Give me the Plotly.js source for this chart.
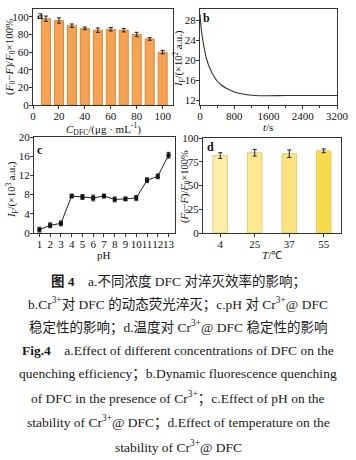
<!DOCTYPE html>
<html>
<head>
<meta charset="utf-8">
<script src="https://cdn.plot.ly/plotly-3.0.1.min.js"></script>
<style>html,body{margin:0;padding:0;background:#fff;}#chart{width:356px;height:460px;}</style>
</head>
<body>
<div id="chart"></div>
<script>
// ---- data ----
const concentrations = [10, 20, 30, 40, 50, 60, 70, 80, 90, 100];
const quenchEff = [98, 96, 90, 87, 85, 86, 85, 80, 75, 60];
const quenchErr = [3, 3, 2, 1.5, 2.5, 2, 2, 2.5, 1.5, 2];

const timeS = [0, 20, 40, 60, 80, 100, 150, 200, 250, 300, 400, 500, 600, 700, 800, 1000, 1200, 1400, 1600, 2000, 2400, 2800, 3200];
const intensityB = [29.2, 27.0, 25.5, 24.3, 23.2, 22.3, 20.3, 19.0, 18.0, 17.1, 15.8, 15.0, 14.4, 14.0, 13.6, 13.2, 12.95, 12.85, 12.85, 12.9, 12.9, 12.9, 12.9];

const pHValues = [1, 2, 3, 4, 5, 6, 7, 8, 9, 10, 11, 12, 13];
const pHIntensity = [0.7, 1.6, 2.0, 7.7, 7.5, 7.3, 7.7, 7.0, 7.1, 7.3, 11.0, 11.8, 16.2];
const pHErr = [0.5, 0.5, 0.5, 0.4, 0.5, 0.6, 0.4, 0.5, 0.4, 0.5, 0.5, 0.5, 0.6];

const temps = ['4', '25', '37', '55'];
const tempEff = [81.5, 84.5, 83.5, 86.5];
const tempErr = [3, 3.5, 4, 2];

const tickA = [0, 20, 40, 60, 80, 100];
const tickB_x = [0, 800, 1600, 2400, 3200];
const tickB_y = [12, 16, 20, 24, 28];
const tickC_y = [0, 4, 8, 12, 16, 20];
const tickD_y = [0, 25, 50, 75, 100];

// ---- helpers ----
const W = 356, H = 460;
const px = v => v / W;
const py = v => 1 - v / H;
const SERIF = 'Liberation Serif, Times New Roman, serif';
const CAP = 'Liberation Serif, Noto Sans CJK SC, serif';

function axisBase(extra) {
  return Object.assign({
    showline: true, mirror: true, linecolor: '#333', linewidth: 1,
    ticks: 'outside', ticklen: 3, tickwidth: 1, tickcolor: '#333',
    showgrid: false, zeroline: false, tickangle: 0,
    ticklabelstandoff: -2,
    tickfont: {family: SERIF, size: 11, color: '#111'},
    fixedrange: true
  }, extra);
}

const traces = [
  {
    type: 'bar', x: concentrations, y: quenchEff, width: 7,
    marker: {color: '#F5A352', line: {color: '#DA8A3C', width: 1}},
    error_y: {type: 'data', array: quenchErr, color: '#222', thickness: 1, width: 2},
    xaxis: 'x', yaxis: 'y', showlegend: false
  },
  {
    type: 'scatter', mode: 'lines', x: timeS, y: intensityB,
    line: {color: '#333', width: 1.1, shape: 'spline', smoothing: 0.6},
    xaxis: 'x2', yaxis: 'y2', showlegend: false
  },
  {
    type: 'scatter', mode: 'lines+markers', x: pHValues, y: pHIntensity,
    line: {color: '#222', width: 1},
    marker: {symbol: 'square', size: 4, color: '#111'},
    error_y: {type: 'data', array: pHErr, color: '#222', thickness: 1, width: 2},
    xaxis: 'x3', yaxis: 'y3', showlegend: false
  },
  {
    type: 'bar', x: temps, y: tempEff, width: 0.42,
    marker: {color: ['#FCEDA6', '#FBE891', '#FAE37E', '#F8DC4C'], line: {color: '#E3CF74', width: 1}},
    error_y: {type: 'data', array: tempErr, color: '#222', thickness: 1, width: 2},
    xaxis: 'x4', yaxis: 'y4', showlegend: false
  }
];

const ann = [];
function addText(text, x, y, opts) {
  ann.push(Object.assign({
    text: text, x: px(x), y: py(y), xref: 'paper', yref: 'paper',
    showarrow: false, xanchor: 'center', yanchor: 'middle',
    font: {family: SERIF, size: 11, color: '#111'}
  }, opts || {}));
}
// panel labels
addText('<b>a</b>', 40, 15, {font: {family: SERIF, size: 12, color: '#111'}});
addText('<b>b</b>', 206, 18, {font: {family: SERIF, size: 12, color: '#111'}});
addText('<b>c</b>', 40, 150, {font: {family: SERIF, size: 12, color: '#111'}});
addText('<b>d</b>', 211, 147, {font: {family: SERIF, size: 12, color: '#111'}});
// axis titles
const effTitle = '(<i>F</i><sub>0</sub>−<i>F</i>)/<i>F</i><sub>0</sub>×100%';
addText(effTitle, 10, 57, {textangle: -90, font: {family: SERIF, size: 11, color: '#111'}});
addText('<i>C</i><sub>DFC</sub>/(μg · mL<sup>-1</sup>)', 103, 129, {font: {family: SERIF, size: 11, color: '#111'}});
addText('<i>I</i><sub>F</sub>/(×10<sup>2</sup> a.u.)', 179, 58, {textangle: -90, font: {family: SERIF, size: 10.5, color: '#111'}});
addText('<i>t</i>/s', 268, 127, {font: {family: SERIF, size: 11, color: '#111'}});
addText('<i>I</i><sub>F</sub>/(×10<sup>3</sup> a.u.)', 12, 190, {textangle: -90, font: {family: SERIF, size: 10.5, color: '#111'}});
addText('pH', 104, 255, {font: {family: SERIF, size: 11, color: '#111'}});
addText(effTitle, 185, 187, {textangle: -90, font: {family: SERIF, size: 10.5, color: '#111'}});
addText('<i>T</i>/℃', 272, 255, {font: {family: SERIF, size: 11, color: '#111'}});

// caption
const capLines = [
  ['<b>图 4</b>　a.不同浓度 DFC 对淬灭效率的影响；', 281],
  ['b.Cr<sup>3+</sup>对 DFC 的动态荧光淬灭；c.pH 对 Cr<sup>3+</sup>@ DFC', 304],
  ['稳定性的影响；d.温度对 Cr<sup>3+</sup>@ DFC 稳定性的影响', 327],
  ['<b>Fig.4</b>　a.Effect of different concentrations of DFC on the', 350],
  ['quenching efficiency；b.Dynamic fluorescence quenching', 374],
  ['of DFC in the presence of Cr<sup>3+</sup>；c.Effect of pH on the', 398],
  ['stability of Cr<sup>3+</sup>@ DFC；d.Effect of temperature on the', 422],
  ['stability of Cr<sup>3+</sup>@ DFC', 446]
];
capLines.forEach(([t, y]) => addText(t, 178, y, {font: {family: CAP, size: 13.5, color: '#1a1a1a'}}));

const layout = {
  width: W, height: H, margin: {l: 0, r: 0, t: 0, b: 0},
  paper_bgcolor: '#fff', plot_bgcolor: '#fff', showlegend: false,
  xaxis: axisBase({domain: [px(33), px(173)], range: [0, 108], tickvals: tickA, anchor: 'y'}),
  yaxis: axisBase({domain: [py(105), py(9)], range: [0, 109], tickvals: tickA, anchor: 'x'}),
  xaxis2: axisBase({domain: [px(200), px(337)], range: [0, 3200], tickvals: tickB_x, anchor: 'y2',
    minor: {dtick: 400, ticks: 'outside', ticklen: 2, tickcolor: '#333'}}),
  yaxis2: axisBase({domain: [py(105), py(9)], range: [11, 30.2], tickvals: tickB_y, anchor: 'x2'}),
  xaxis3: axisBase({domain: [px(34), px(175)], range: [0.5, 13.6], tickvals: pHValues, anchor: 'y3'}),
  yaxis3: axisBase({domain: [py(233), py(137)], range: [0, 20], tickvals: tickC_y, anchor: 'x3'}),
  xaxis4: axisBase({domain: [px(203), px(341)], type: 'category', range: [-0.5, 3.5], anchor: 'y4'}),
  yaxis4: axisBase({domain: [py(233), py(138)], range: [0, 100], tickvals: tickD_y, anchor: 'x4'}),
  annotations: ann
};

Plotly.newPlot('chart', traces, layout, {staticPlot: true, displayModeBar: false});
</script>
</body>
</html>
